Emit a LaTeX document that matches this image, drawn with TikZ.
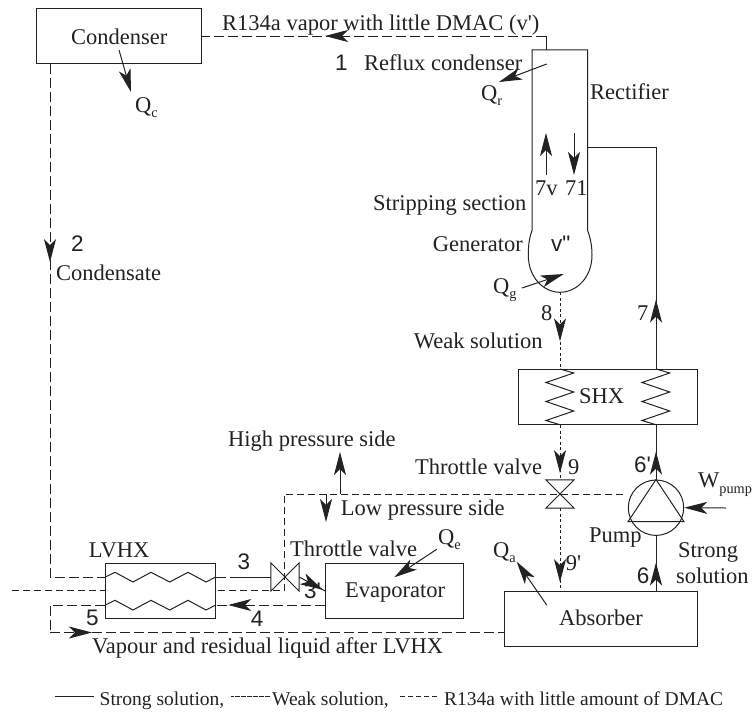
\documentclass[tikz,border=0pt]{standalone}
\usepackage{fontspec}
\setmainfont{Liberation Serif}
\setsansfont{Liberation Sans}
\usepackage{xcolor}
\usepackage{tikz}
\usetikzlibrary{
  arrows.meta,
  positioning,
  decorations.markings,
  calc
}
\definecolor{LineDark}{HTML}{222222}
\newcommand{\mainsize}{\fontsize{22.5}{25}\selectfont}
\newcommand{\legendsize}{\fontsize{19.5}{22}\selectfont}
\newcommand{\lowered}[1]{\raisebox{-5.5pt}{\fontsize{14.3}{15}\selectfont #1}}
\tikzset{
  flowtip/.tip={Stealth[length=23pt,width=12pt,inset=6pt]},
  unitbox/.style={
    draw=LineDark,
    line width=1pt,
    inner sep=0pt
  },
  label/.style={
    anchor=base west,
    inner sep=0pt,
    text=LineDark,
    font=\mainsize
  },
  number/.style={
    label,
    font=\mainsize\sffamily
  },
  legend/.style={
    label,
    font=\legendsize
  },
  strong/.style={
    draw=LineDark,
    line width=1pt
  },
  weak/.style={
    draw=LineDark,
    line width=1pt,
    dash pattern=on 3pt off 2.5pt
  },
  vapour/.style={
    draw=LineDark,
    line width=1pt,
    dash pattern=on 10pt off 4pt
  },
  pressure/.style={
    draw=LineDark,
    line width=1pt,
    dash pattern=on 7pt off 4pt
  },
  flowmark/.style={
    postaction={decorate},
    decoration={
      markings,
      mark=at position #1 with {\arrow{flowtip}}
    }
  },
  heat/.style={
    -{flowtip},
    draw=LineDark,
    line width=1pt
  }
}
\begin{document}
\begin{tikzpicture}[x=1pt,y=-1pt]

  \useasboundingbox (0,0) rectangle (752,712);

  % components
  \node[unitbox, minimum width=165.4pt, minimum height=55.2pt] (condenser) at (119,36) {};
  \node[minimum width=55pt, minimum height=180pt, inner sep=0pt] (rectifier) at (559.8,140) {};
  \node[unitbox, minimum width=179pt, minimum height=55.7pt] (shx) at (608.2,396.85) {};
  \node[unitbox, minimum width=110.4pt, minimum height=55pt] (lvhx) at (160.5,590.8) {};
  \node[unitbox, minimum width=137.6pt, minimum height=55.4pt] (evaporator) at (394.5,591) {};
  \node[unitbox, minimum width=193pt, minimum height=55.7pt] (absorber) at (601.2,618.85) {};
  \node[unitbox, circle, minimum size=55.4pt] (pump) at (656,507.7) {};
  \node[minimum width=28pt, minimum height=28pt, inner sep=0pt] (valveleft) at (285,577) {};
  \node[minimum width=28pt, minimum height=28pt, inner sep=0pt] (valveright) at (560,494) {};

  % rectifier and generator vessel
  \draw[strong]
  (rectifier.south west) -- (rectifier.north west) -- (rectifier.north east) -- (rectifier.south east)
  .. controls ($(rectifier.south east)+(3,8)$) and (592,246) .. (592,255)
  .. controls (592,278) and (576,292.3) .. (560,292.3)
  .. controls (544,292.3) and (528.3,278) .. (528.3,255)
  .. controls (528.3,246) and ($(rectifier.south west)+(-3,8)$) .. (rectifier.south west);

  % valves and pump symbol
  \draw[strong] (valveleft.north west) -- (valveleft.south east) -- (valveleft.north east) -- (valveleft.south west) -- cycle;
  \draw[strong] (valveright.north west) -- (valveright.south east) -- (valveright.south west) -- (valveright.north east) -- cycle;
  \draw[strong] (pump.north) -- ($(pump)+(-28,14)$) -- ($(pump)+(28,14)$) -- cycle;

  % heat exchanger coils
  \foreach \zx in {560,656}
    \draw[strong] (\zx,369) -- ++(13.7,4) -- ++(-27.7,9.5) -- ++(27.7,9.5) -- ++(-27.7,9.5) -- ++(27.7,9.5) -- ++(-27.7,9.5) -- ++(14,4.2);
  \foreach \zy in {577,605}
    \draw[strong] (105.3,\zy) -- ++(9.7,-4.7) -- ++(18,9.7) -- ++(18,-9.7) -- ++(18.7,9.7) -- ++(18.3,-9.7) -- ++(18,9.7) -- ++(9.7,-5);

  % junctions
  \coordinate (topbend) at (546,36);
  \coordinate (leftbus) at (50,577);
  \coordinate (lowbus) at (50,632.5);
  \coordinate (lvhxfive) at (50,605);
  \coordinate (richbend) at (656,147);
  \coordinate (valvefeed) at (236,577);
  \coordinate (pressurebend) at (284.3,494);
  \coordinate (pressureright) at (625,494);
  \coordinate (pressurein) at (284.3,590.7);
  \coordinate (pressureout) at (218,590.7);
  \coordinate (pressurefar) at (12,590.7);
  \coordinate (vesselbottom) at (560,292.3);

  % refrigerant lines
  \draw[vapour, flowmark=221pt] (topbend) -- (condenser.east |- topbend);
  \draw[strong] (topbend |- rectifier.north) -- (topbend);
  \draw[vapour, flowmark=198pt] (leftbus |- condenser.south) -- (leftbus) -- (lvhx.west |- leftbus);
  \draw[vapour, flowmark=42pt] (lvhx.east |- leftbus) -- (valvefeed);
  \draw[strong] (valvefeed) -- (valveleft.west);
  \draw[strong, flowmark=27pt] (valveleft.east) -- (evaporator.west);
  \draw[vapour, flowmark=97pt] (evaporator.west |- lvhxfive) -- (lvhx.east |- lvhxfive);
  \draw[vapour] (lvhx.west |- lvhxfive) -- (lvhxfive) -- (lowbus);
  \draw[vapour, flowmark=42pt] (lowbus) -- (absorber.west |- lowbus);

  % weak solution
  \draw[weak, flowmark=49pt] (vesselbottom) -- (shx.north -| valveright);
  \draw[weak, flowmark=48pt] (shx.south -| valveright) -- (valveright.north);
  \draw[weak, flowmark=74pt] (valveright.south) -- (absorber.north -| valveright);

  % strong solution
  \draw[strong, flowmark=69pt] (shx.north -| pump) -- (richbend) -- (richbend -| rectifier.east);
  \draw[strong, flowmark=28pt] (pump.north) -- (shx.south -| pump);
  \draw[strong, flowmark=28pt] (absorber.north -| pump) -- (pump.south);

  % pressure boundary
  \draw[pressure] (pressurefar) -- (lvhx.west |- pressurefar);
  \draw[pressure] (pressureout) -- (pressurein) -- (pressurebend) -- (pressureright);

  % heat and work arrows
  \coordinate (qcfrom) at (119,50);
  \coordinate (qcto) at (131,92);
  \coordinate (qrfrom) at (546.7,64);
  \coordinate (qrto) at (499,82);
  \coordinate (qgfrom) at (522,288);
  \coordinate (qgto) at (563.7,274);
  \coordinate (qefrom) at (436.7,549.3);
  \coordinate (qeto) at (394.3,577.3);
  \coordinate (qafrom) at (546.7,605);
  \coordinate (qato) at (516.7,561.7);
  \coordinate (wfrom) at (726,508);
  \coordinate (vaporup) at (546,175);
  \coordinate (vaporuptip) at (546,133);
  \coordinate (liquiddown) at (574,133);
  \coordinate (liquiddowntip) at (574,175);
  \coordinate (highup) at (340,452);
  \coordinate (lowdown) at (326,522);
  \draw[heat] (qcfrom) -- (qcto);
  \draw[heat] (qrfrom) -- (qrto);
  \draw[heat] (qgfrom) -- (qgto);
  \draw[heat] (qefrom) -- (qeto);
  \draw[heat] (qafrom) -- (qato);
  \draw[heat] (wfrom) -- (pump.east);
  \draw[heat] (vaporup) -- (vaporuptip);
  \draw[heat] (liquiddown) -- (liquiddowntip);
  \draw[heat] (highup |- pressurebend) -- (highup);
  \draw[heat] (lowdown |- pressurebend) -- (lowdown);

  % texts
  \node[label] (condensertext) at (71,44) {Condenser};
  \node[label] (toptext) at (222,30) {R134a vapor with little DMAC (v\textquotesingle)};
  \node[number] (point1) at (335,70.5) {1};
  \node[label] (refluxtext) at (364,70) {Reflux condenser};
  \node[label] (qc) at (135,112) {Q\lowered{c}};
  \node[label] (qr) at (481,100) {Q\lowered{r}};
  \node[label] (rectifiertext) at (590,99) {Rectifier};
  \node[label] (point7v) at (535,195.7) {7v};
  \node[label] (point7l) at (565,195.7) {71};
  \node[label] (strippingtext) at (373,210) {Stripping section};
  \node[label] (generatortext) at (432.7,251.7) {Generator};
  \node[number] (vdouble) at (551,251.7) {v\textquotedbl};
  \node[label] (qg) at (493,293) {Q\lowered{g}};
  \node[label] (point8) at (541,320.7) {8};
  \node[label] (point7) at (637,320.7) {7};
  \node[label] (weaktext) at (413.7,348) {Weak solution};
  \node[label] (point2text) at (56,280) {Condensate};
  \node[number] (point2) at (71,251.5) {2};
  \node[label] (shxtext) at (579,403) {SHX};
  \node[label] (hightext) at (228,446) {High pressure side};
  \node[label] (valvetextright) at (415,474) {Throttle valve};
  \node[label] (point9) at (568,474) {9};
  \node[number] (point6prime) at (634,472) {6\textquotesingle};
  \node[label] (lowtext) at (340.7,515) {Low pressure side};
  \node[label] (wpump) at (698,487.7) {W\lowered{pump}};
  \node[label] (pumptext) at (589,542) {Pump};
  \node[label] (qe) at (438,544) {Q\lowered{e}};
  \node[label] (qa) at (493,557) {Q\lowered{a}};
  \node[label] (valvetextleft) at (290,556.7) {Throttle valve};
  \node[label] (point9prime) at (565.7,570) {9\textquotesingle};
  \node[label] (strongtextone) at (678,557) {Strong};
  \node[label] (strongtexttwo) at (676,583) {solution};
  \node[number] (point6) at (636.7,583) {6};
  \node[number] (point3prime) at (304,598) {3\textquotesingle};
  \node[label] (evaporatortext) at (345,597.7) {Evaporator};
  \node[label] (absorbertext) at (559,625.7) {Absorber};
  \node[label] (lvhxtext) at (88.7,557) {LVHX};
  \node[number] (point3) at (237.5,569) {3};
  \node[number] (point4) at (250.7,626) {4};
  \node[number] (point5) at (86,625) {5};
  \node[label] (vapourtext) at (92,653) {Vapour and residual liquid after LVHX};

  % legend
  \node[legend] (legendstrong) at (99.5,705) {Strong solution,};
  \node[legend] (legendweak) at (272,705) {Weak solution,};
  \node[legend] (legendvapour) at (444,705) {R134a with little amount of DMAC};
  \coordinate (keystrong) at (55,696.5);
  \coordinate (keyweak) at (231,696.5);
  \coordinate (keyvapour) at (400,696.5);
  \draw[strong] (keystrong) -- ++(39,0);
  \draw[draw=LineDark, line width=.6pt, dash pattern=on .6pt off .6pt] (keyweak) -- ++(39,0);
  \draw[draw=LineDark, line width=1pt, dash pattern=on 5pt off 3pt] (keyvapour) -- ++(38,0);

\end{tikzpicture}
\end{document}
